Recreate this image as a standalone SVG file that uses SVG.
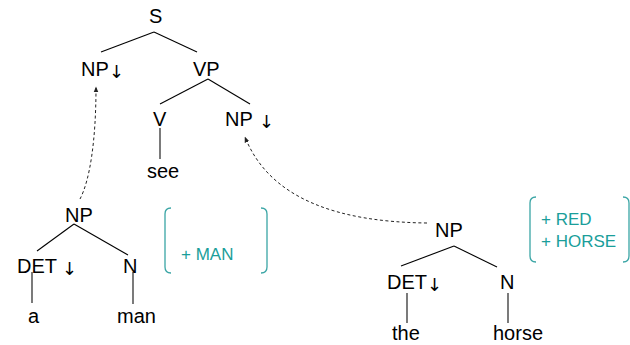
<svg xmlns="http://www.w3.org/2000/svg" width="630" height="345" viewBox="0 0 630 345">
<defs>
<style>
.t{font-family:"Liberation Sans",Arial,sans-serif;font-size:20px;fill:#000}
.ar{font-family:"DejaVu Sans",sans-serif;font-size:18px;fill:#000}
.f{font-family:"Liberation Sans",Arial,sans-serif;font-size:17px;fill:#1a9e9a}
.e{stroke:#000;stroke-width:1.1;fill:none}
.v{stroke:#333;stroke-width:1.3;fill:none}
.d{stroke:#222;stroke-width:1;stroke-dasharray:3,2.5;fill:none}
.b{stroke:#3aa5a5;stroke-width:1.3;fill:none}
</style>
<marker id="ah" viewBox="0 0 10 10" refX="9" refY="5" markerWidth="6" markerHeight="6" orient="auto" markerUnits="userSpaceOnUse">
<path d="M0,1 L10,5 L0,9 z" fill="#222"/>
</marker>
</defs>
<rect width="630" height="345" fill="#fff"/>
<g id="connectors">
<line class="e" x1="154" y1="32" x2="101" y2="52"/>
<line class="e" x1="154" y1="32" x2="197" y2="52"/>
<line class="e" x1="208" y1="79" x2="160" y2="104"/>
<line class="e" x1="208" y1="79" x2="250" y2="104"/>
<line class="v" x1="160" y1="128" x2="160" y2="159"/>
<line class="e" x1="74" y1="224" x2="37" y2="251"/>
<line class="e" x1="74" y1="224" x2="128" y2="255"/>
<line class="v" x1="32" y1="272" x2="32" y2="303"/>
<line class="v" x1="133" y1="272" x2="133" y2="304"/>
<line class="e" x1="454" y1="246" x2="401" y2="266"/>
<line class="e" x1="454" y1="246" x2="497" y2="267"/>
<line class="v" x1="407" y1="293" x2="407" y2="323"/>
<line class="v" x1="508" y1="293" x2="508" y2="323"/>
<path class="d" d="M80,199 C90,180 96,140 96,87" marker-end="url(#ah)"/>
<path class="d" d="M427,223 C340,222 270,200 245,137" marker-end="url(#ah)"/>
</g>
<g id="S"><text class="t" x="149" y="23">S</text></g>
<g id="NP1"><text class="t" x="81" y="76">NP<tspan class="ar" x="109" y="78">↓</tspan></text></g>
<g id="VP"><text class="t" x="193" y="76">VP</text></g>
<g id="V"><text class="t" x="153" y="126">V</text></g>
<g id="NP2"><text class="t" x="225" y="126">NP<tspan class="ar" x="259" y="128">↓</tspan></text></g>
<g id="see"><text class="t" x="147" y="178">see</text></g>
<g id="NP3"><text class="t" x="65" y="222">NP</text></g>
<g id="DET1"><text class="t" x="17" y="273">DET<tspan class="ar" x="62" y="275">↓</tspan></text></g>
<g id="N1"><text class="t" x="123" y="273">N</text></g>
<g id="a"><text class="t" x="28" y="323">a</text></g>
<g id="man"><text class="t" x="117" y="323">man</text></g>
<g id="feat1">
<path class="b" d="M171,208 Q165,208 165,214 V267 Q165,273 171,273"/>
<path class="b" d="M261,208 Q267,208 267,214 V267 Q267,273 261,273"/>
<text class="f" x="181" y="260">+ MAN</text>
</g>
<g id="NP4"><text class="t" x="435" y="237">NP</text></g>
<g id="DET2"><text class="t" x="387" y="289">DET<tspan class="ar" x="427" y="291">↓</tspan></text></g>
<g id="N2"><text class="t" x="500" y="289">N</text></g>
<g id="the"><text class="t" x="392" y="340">the</text></g>
<g id="horse"><text class="t" x="493" y="340">horse</text></g>
<g id="feat2">
<path class="b" d="M536,197 Q530,197 530,203 V256 Q530,262 536,262"/>
<path class="b" d="M623,197 Q629,197 629,203 V256 Q629,262 623,262"/>
<text class="f" x="541" y="225">+ RED</text>
<text class="f" x="541" y="247">+ HORSE</text>
</g>
</svg>
